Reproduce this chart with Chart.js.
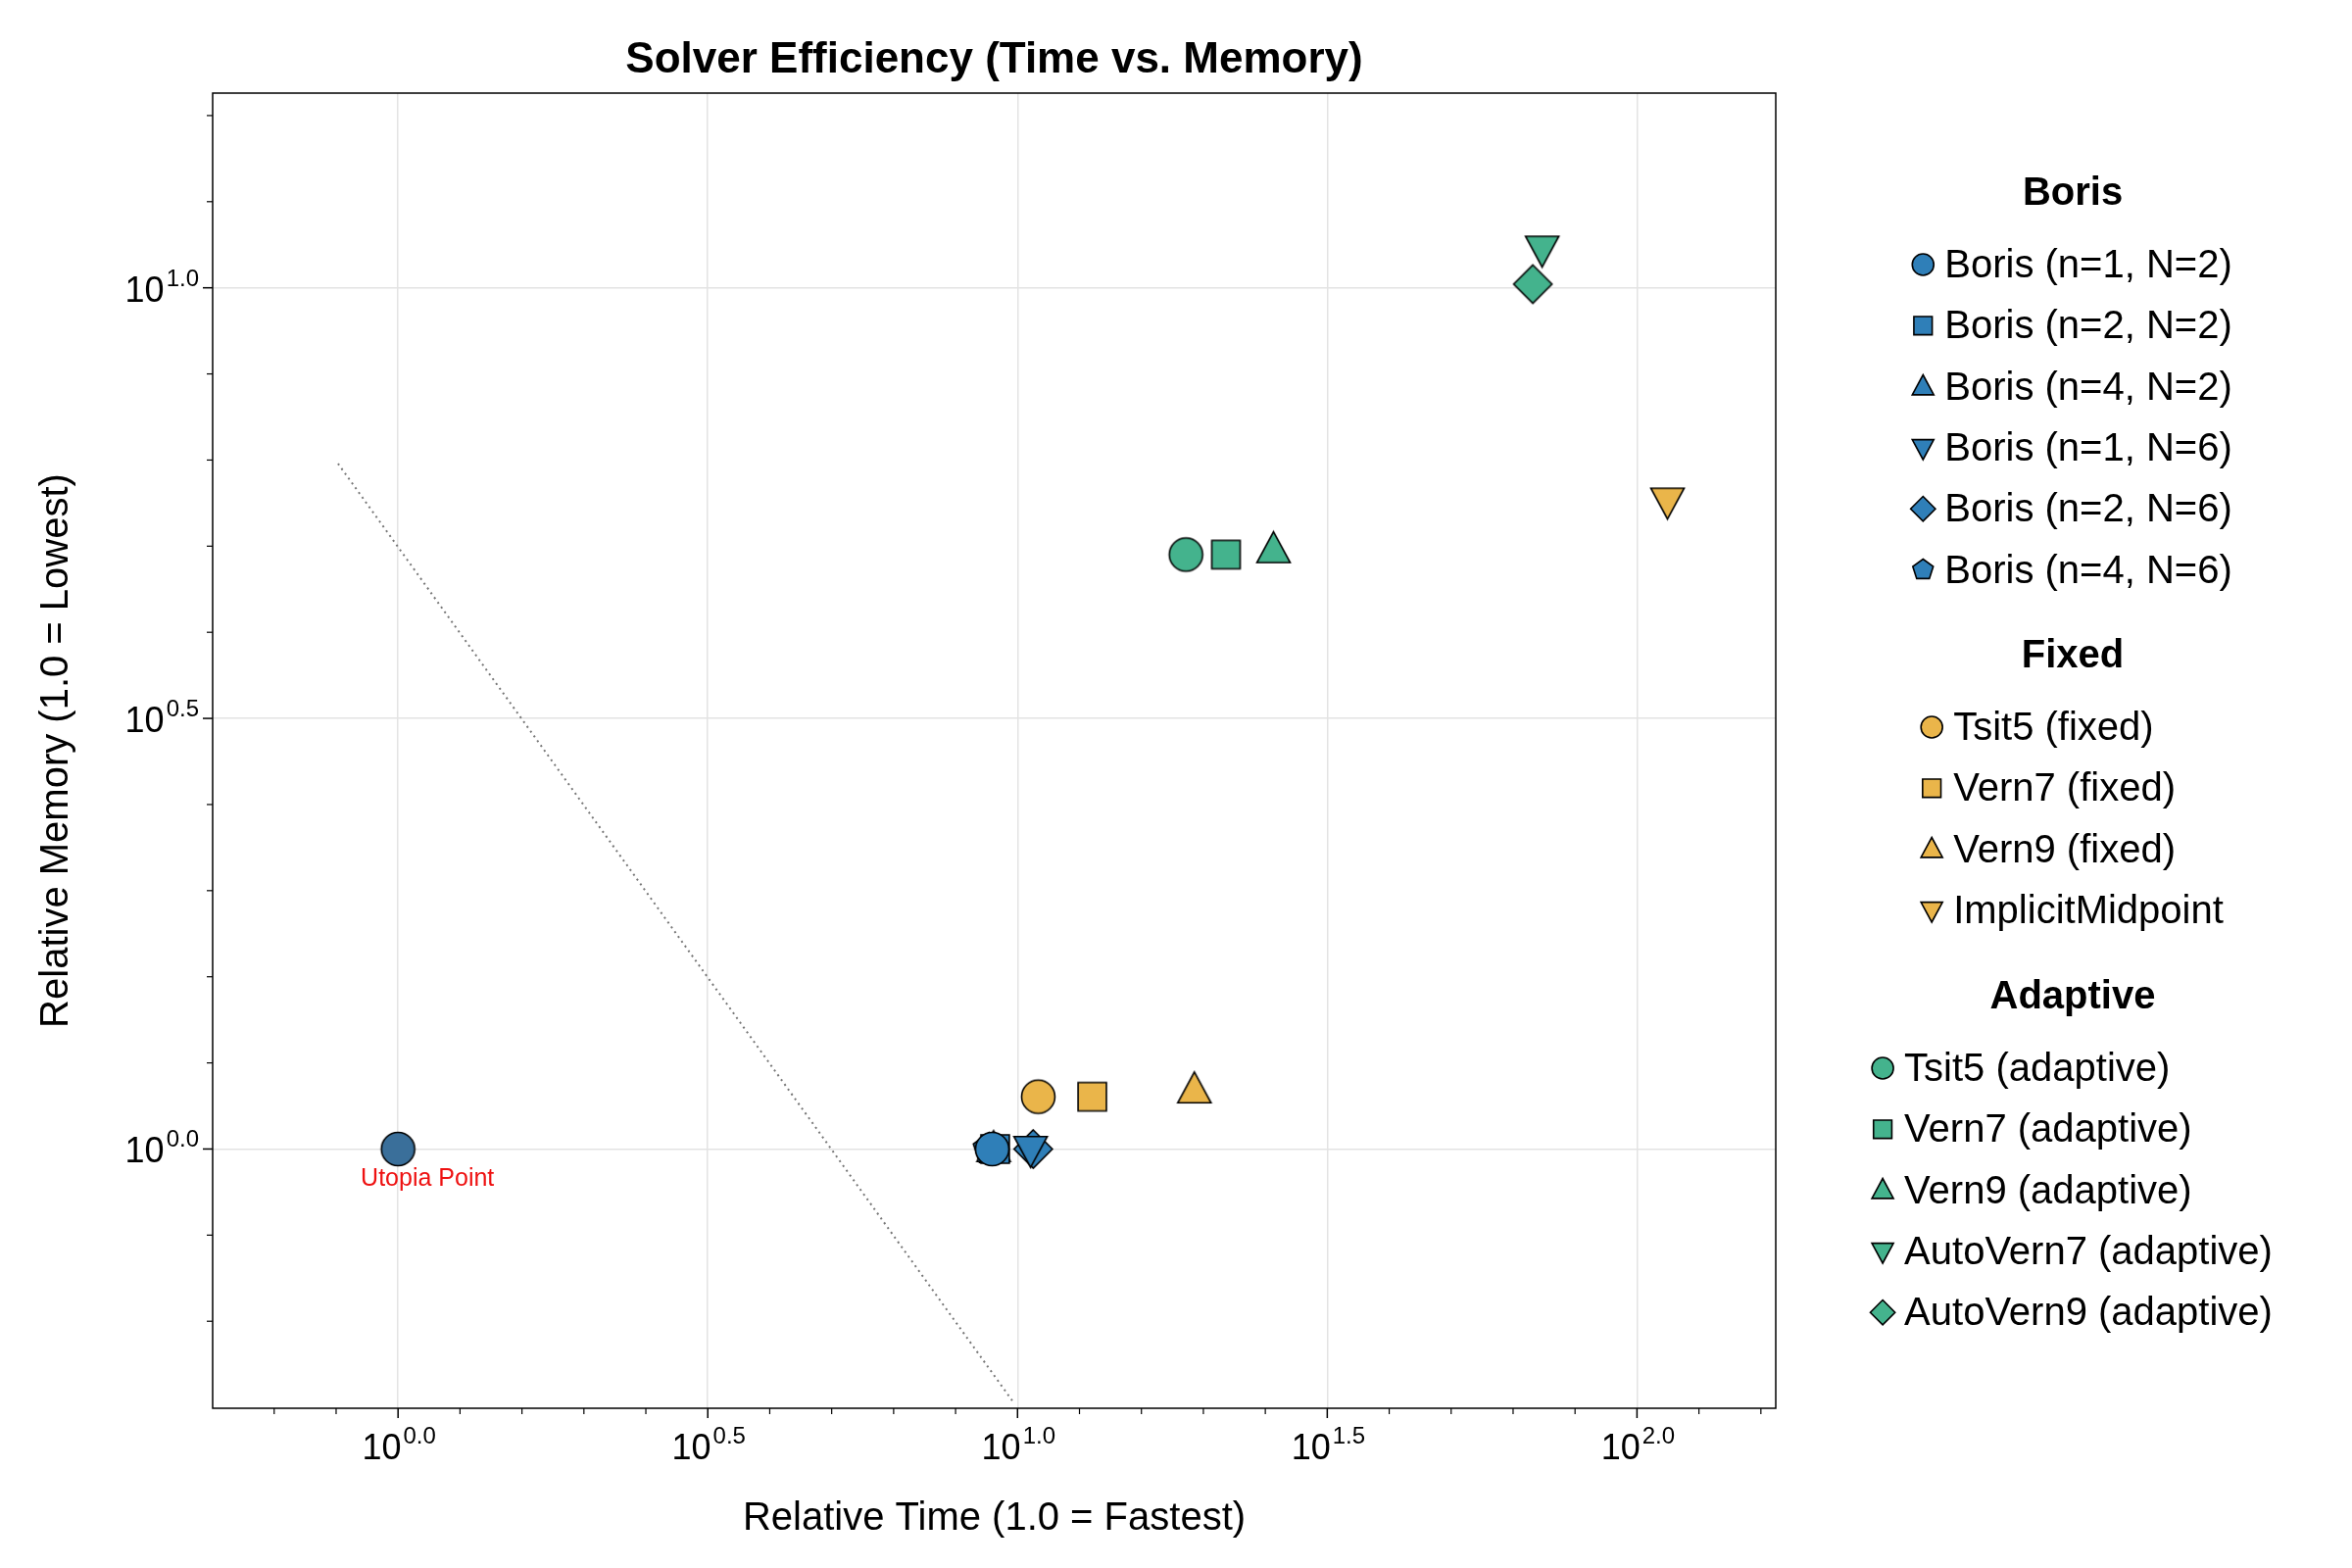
<!DOCTYPE html>
<html><head><meta charset="utf-8">
<script src="https://cdn.jsdelivr.net/npm/chart.js@4/dist/chart.umd.min.js"></script>
<style>body{margin:0;background:#fff}canvas{display:block}</style>
</head><body>
<canvas id="c" width="2400" height="1600"></canvas>
<script>
/**** solver efficiency: relative time vs memory (log-log) ****/

const BLUE="#2f7fb8", ORANGE="#eab54a", GREEN="#44b38d";

// data
const borisLabels = ["Boris (n=1, N=2)","Boris (n=2, N=2)","Boris (n=4, N=2)","Boris (n=1, N=6)","Boris (n=2, N=6)","Boris (n=4, N=6)"];
const borisShapes = ["circle","square","triangle","down","diamond","pentagon"];
const borisTime   = [9.1, 9.2, 9.15, 10.5, 10.6, 9.0];
const borisMem    = [1.0, 1.0, 1.0, 1.0, 1.0, 1.0];

const fixedLabels = ["Tsit5 (fixed)","Vern7 (fixed)","Vern9 (fixed)","ImplicitMidpoint"];
const fixedShapes = ["circle","square","triangle","down"];
const fixedTime   = [10.8, 13.2, 19.3, 112];
const fixedMem    = [1.15, 1.15, 1.17, 5.66];

const adaptLabels = ["Tsit5 (adaptive)","Vern7 (adaptive)","Vern9 (adaptive)","AutoVern7 (adaptive)","AutoVern9 (adaptive)"];
const adaptShapes = ["circle","square","triangle","down","diamond"];
const adaptTime   = [18.7, 21.7, 25.9, 70.3, 67.9];
const adaptMem    = [4.90, 4.90, 4.96, 11.1, 10.1];

const utopia   = {x:1, y:1};
const refLineX = [0.8, 9.85];
const refLineY = [6.25, 0.508];

const xTicks = [0, 0.5, 1.0, 1.5, 2.0];   // log10 exponents
const yTicks = [0, 0.5, 1.0];

// marker drawing
function drawShape(ctx, shape, x, y, r, fill){
  ctx.save();
  ctx.beginPath();
  if(shape==="circle") ctx.arc(x,y,r,0,Math.PI*2);
  else if(shape==="square") ctx.rect(x-r*0.85,y-r*0.85,r*1.7,r*1.7);
  else if(shape==="triangle"){ ctx.moveTo(x,y-r*1.1); ctx.lineTo(x+r,y+r*0.75); ctx.lineTo(x-r,y+r*0.75); ctx.closePath(); }
  else if(shape==="down"){ ctx.moveTo(x,y+r*1.1); ctx.lineTo(x+r,y-r*0.75); ctx.lineTo(x-r,y-r*0.75); ctx.closePath(); }
  else if(shape==="diamond"){ ctx.moveTo(x,y-r*1.15); ctx.lineTo(x+r*1.15,y); ctx.lineTo(x,y+r*1.15); ctx.lineTo(x-r*1.15,y); ctx.closePath(); }
  else if(shape==="pentagon"){ for(let i=0;i<5;i++){const a=-Math.PI/2+i*2*Math.PI/5; i?ctx.lineTo(x+r*Math.cos(a),y+r*Math.sin(a)):ctx.moveTo(x+r*Math.cos(a),y+r*Math.sin(a));} ctx.closePath(); }
  else if(shape==="star"){ for(let i=0;i<10;i++){const a=-Math.PI/2+i*Math.PI/5, rr=i%2?r*0.45:r; i?ctx.lineTo(x+rr*Math.cos(a),y+rr*Math.sin(a)):ctx.moveTo(x+rr*Math.cos(a),y+rr*Math.sin(a));} ctx.closePath(); }
  ctx.fillStyle=fill; ctx.fill();
  if(shape!=="star"){ ctx.strokeStyle="#000"; ctx.lineWidth=1.6; ctx.stroke(); }
  ctx.restore();
}
function markerCanvas(shape, fill, r){
  const c=document.createElement("canvas"); const s=Math.ceil(r*2.6)+4;
  c.width=s; c.height=s;
  drawShape(c.getContext("2d"), shape, s/2, s/2, r, fill);
  return c;
}

function makeSets(labels, shapes, xs, ys, color){
  return labels.map((l,i)=>({
    label:l, data:[{x:xs[i], y:ys[i]}],
    pointStyle: markerCanvas(shapes[i], color, 17), showLine:false
  }));
}

const datasets = [
  {label:"ref", data:refLineX.map((x,i)=>({x, y:refLineY[i]})), showLine:true, borderColor:"#777", borderDash:[2,4], borderWidth:2, pointRadius:0},
  ...makeSets(borisLabels, borisShapes, borisTime, borisMem, BLUE),
  ...makeSets(fixedLabels, fixedShapes, fixedTime, fixedMem, ORANGE),
  ...makeSets(adaptLabels, adaptShapes, adaptTime, adaptMem, GREEN),
  {label:"utopia-c", data:[utopia], pointStyle:markerCanvas("circle","#3a6f9a",17)},
  {label:"utopia", data:[utopia], pointStyle:markerCanvas("star","#d8313a",15)}
];

const FONT = "'Liberation Sans', Arial, sans-serif";

const overlay = {
  id:"overlay",
  afterDraw(chart){
    const {ctx, chartArea:a, scales:{x, y}} = chart;
    ctx.save();
    // frame
    ctx.strokeStyle="#000"; ctx.lineWidth=1.5;
    ctx.strokeRect(a.left, a.top, a.right-a.left, a.bottom-a.top);
    // ticks + labels
    ctx.fillStyle="#000";
    const lbl=(e,px,py,align)=>{
      ctx.font=`36px ${FONT}`; const bw=ctx.measureText("10").width;
      ctx.font=`24px ${FONT}`; const sw=ctx.measureText(e.toFixed(1)).width;
      let sx = align==="center" ? px-(bw+sw)/2 : px-(bw+sw);
      ctx.textBaseline="alphabetic"; ctx.textAlign="left";
      ctx.font=`36px ${FONT}`; ctx.fillText("10", sx, py);
      ctx.font=`24px ${FONT}`; ctx.fillText(e.toFixed(1), sx+bw+2, py-16);
    };
    xTicks.forEach(e=>{
      const px=x.getPixelForValue(Math.pow(10,e));
      ctx.beginPath(); ctx.moveTo(px,a.bottom); ctx.lineTo(px,a.bottom+10); ctx.stroke();
      lbl(e, px, a.bottom+52, "center");
    });
    yTicks.forEach(e=>{
      const py=y.getPixelForValue(Math.pow(10,e));
      ctx.beginPath(); ctx.moveTo(a.left,py); ctx.lineTo(a.left-10,py); ctx.stroke();
      lbl(e, a.left-16, py+14, "right");
    });
    // minor ticks every 0.1 decade
    ctx.lineWidth=1.2;
    for(let e=-0.2;e<=2.21;e+=0.1){ if(Math.abs(e*2-Math.round(e*2))<1e-6) continue;
      const px=x.getPixelForValue(Math.pow(10,e));
      if(px<a.left||px>a.right) continue;
      ctx.beginPath(); ctx.moveTo(px,a.bottom); ctx.lineTo(px,a.bottom+6); ctx.stroke(); }
    for(let e=-0.2;e<=1.21;e+=0.1){ if(Math.abs(e*2-Math.round(e*2))<1e-6) continue;
      const py=y.getPixelForValue(Math.pow(10,e));
      if(py<a.top||py>a.bottom) continue;
      ctx.beginPath(); ctx.moveTo(a.left,py); ctx.lineTo(a.left-6,py); ctx.stroke(); }
    // titles
    ctx.textAlign="center"; ctx.textBaseline="middle";
    ctx.font=`bold 44px ${FONT}`; ctx.fillText("Solver Efficiency (Time vs. Memory)", (a.left+a.right)/2, 62);
    ctx.font=`40px ${FONT}`; ctx.fillText("Relative Time (1.0 = Fastest)", (a.left+a.right)/2, 1550);
    ctx.save(); ctx.translate(58,(a.top+a.bottom)/2); ctx.rotate(-Math.PI/2);
    ctx.fillText("Relative Memory (1.0 = Lowest)",0,0); ctx.restore();
    // utopia label
    ctx.fillStyle="#ee1111"; ctx.font=`25px ${FONT}`;
    ctx.fillText("Utopia Point", x.getPixelForValue(utopia.x)+30, y.getPixelForValue(utopia.y)+31);
    // grouped legend
    const groups=[["Boris",borisLabels,borisShapes,BLUE,198],["Fixed",fixedLabels,fixedShapes,ORANGE,670],["Adaptive",adaptLabels,adaptShapes,GREEN,1018]];
    const cx=2115, step=62.3;
    groups.forEach(([t,labs,shp,col,ty])=>{
      ctx.fillStyle="#000"; ctx.textAlign="center"; ctx.font=`bold 40px ${FONT}`;
      ctx.fillText(t,cx,ty);
      ctx.font=`40px ${FONT}`;
      const w=Math.max(...labs.map(s=>ctx.measureText(s).width))+32;
      const x0=cx-w/2;
      labs.forEach((s,i)=>{
        const yy=ty+72+i*step;
        drawShape(ctx, shp[i], x0+10, yy, 11, col);
        ctx.fillStyle="#000"; ctx.textAlign="left"; ctx.fillText(s, x0+32, yy+2);
      });
    });
    ctx.restore();
  }
};

new Chart(document.getElementById("c"), {
  type:"scatter",
  data:{datasets},
  options:{
    responsive:false, devicePixelRatio:1, animation:false,
    layout:{padding:{left:0, right:588, top:95, bottom:0}},
    plugins:{legend:{display:false}, tooltip:{enabled:false}},
    scales:{
      x:{type:"logarithmic", min:0.502, max:167.5,
         afterFit:s=>{s.height=163;},
         afterBuildTicks:s=>{s.ticks=xTicks.map(e=>({value:Math.pow(10,e)}));},
         ticks:{callback:()=>"", display:true},
         border:{display:false},
         grid:{color:"#e3e3e3", lineWidth:1.5, drawTicks:false, tickBorderDash:[6,6]}},
      y:{type:"logarithmic", min:0.5, max:16.83,
         afterFit:s=>{s.width=217;},
         afterBuildTicks:s=>{s.ticks=yTicks.map(e=>({value:Math.pow(10,e)}));},
         ticks:{callback:()=>""},
         border:{display:false},
         grid:{color:"#e3e3e3", lineWidth:1.5, drawTicks:false}}
    }
  },
  plugins:[{id:"dash", beforeDraw(c){c.ctx.setLineDash([]);}}, overlay]
});
// dashed grid
Chart.defaults.scale.grid.borderDash=[6,6];
</script>
</body></html>
